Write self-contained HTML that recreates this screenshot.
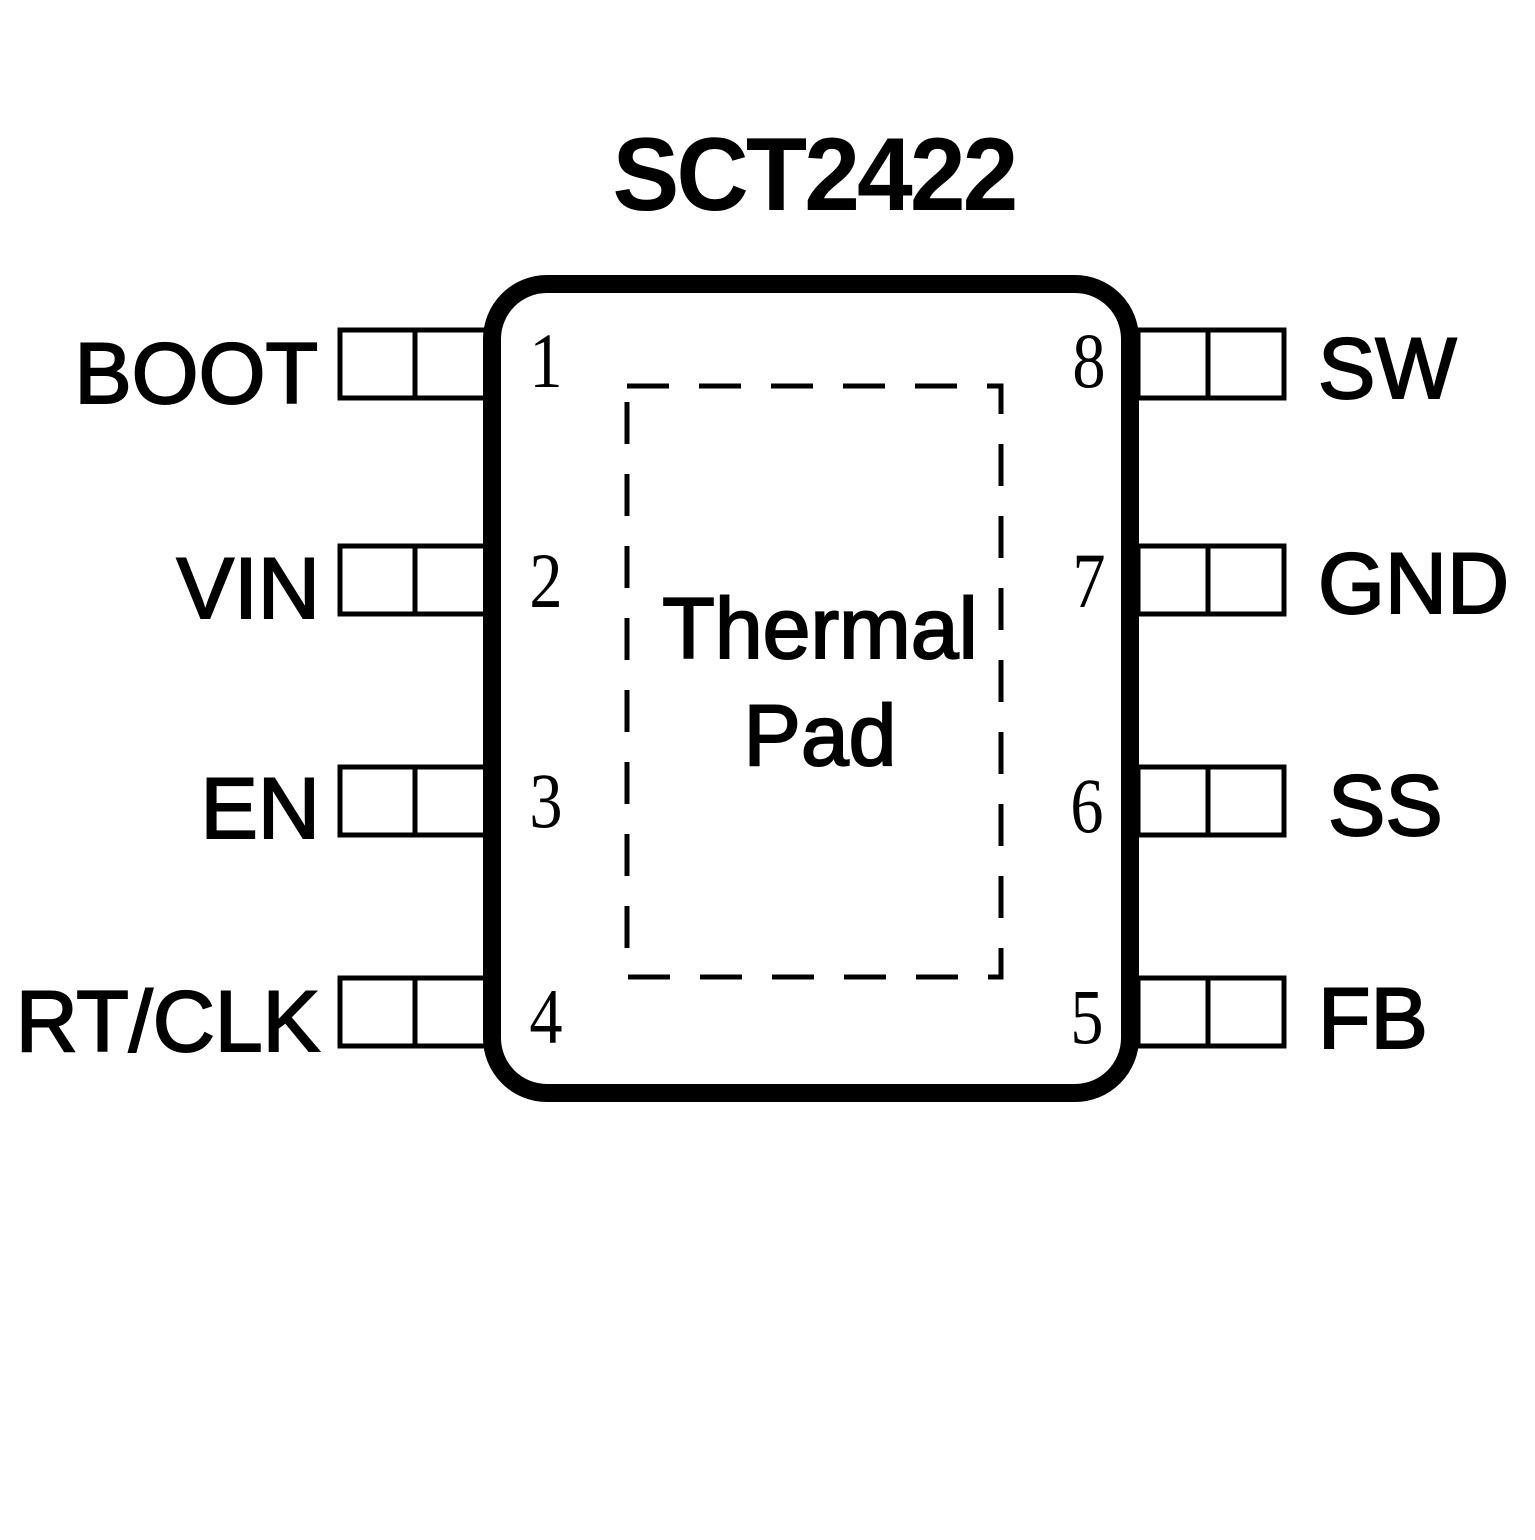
<!DOCTYPE html>
<html><head><style>html,body{margin:0;padding:0;background:#fff}</style></head>
<body>
<svg width="1535" height="1535" viewBox="0 0 1535 1535" xmlns="http://www.w3.org/2000/svg">
<rect width="1535" height="1535" fill="#fff"/>
<text x="814" y="210" text-anchor="middle" font-family="Liberation Sans, sans-serif" font-weight="bold" font-size="104" fill="#000" letter-spacing="-3" textLength="403" lengthAdjust="spacingAndGlyphs">SCT2422</text>
<g fill="none" stroke="#000" stroke-width="5">
<rect x="340" y="330" width="146" height="68"/><line x1="415" y1="330" x2="415" y2="398"/>
<rect x="340" y="546" width="146" height="68"/><line x1="415" y1="546" x2="415" y2="614"/>
<rect x="340" y="767" width="146" height="68"/><line x1="415" y1="767" x2="415" y2="835"/>
<rect x="340" y="978" width="146" height="68"/><line x1="415" y1="978" x2="415" y2="1046"/>
<rect x="1138" y="330" width="146" height="68"/><line x1="1208" y1="330" x2="1208" y2="398"/>
<rect x="1138" y="546" width="146" height="68"/><line x1="1208" y1="546" x2="1208" y2="614"/>
<rect x="1138" y="767" width="146" height="68"/><line x1="1208" y1="767" x2="1208" y2="835"/>
<rect x="1138" y="978" width="146" height="68"/><line x1="1208" y1="978" x2="1208" y2="1046"/>
</g>
<rect x="492" y="284" width="638" height="809" rx="55" fill="#fff" stroke="#000" stroke-width="18"/>
<rect x="627" y="386" width="374" height="591" fill="none" stroke="#000" stroke-width="5" stroke-dasharray="42 30"/>
<g font-family="Liberation Sans, sans-serif" font-size="86" fill="#000" stroke="#000" stroke-width="2" text-anchor="end">
<text x="318" y="403">BOOT</text>
<text x="320" y="618">VIN</text>
<text x="320" y="838">EN</text>
<text x="320" y="1051">RT/CLK</text>
</g>
<g font-family="Liberation Sans, sans-serif" font-size="86" fill="#000" stroke="#000" stroke-width="2">
<text x="1318" y="398">SW</text>
<text x="1318" y="613">GND</text>
<text x="1328" y="835">SS</text>
<text x="1318" y="1048">FB</text>
</g>
<g font-family="Liberation Serif, serif" font-size="78" fill="#000" text-anchor="middle">
<text transform="translate(546,387) scale(0.85,1)">1</text>
<text transform="translate(546,607) scale(0.85,1)">2</text>
<text transform="translate(546,827) scale(0.85,1)">3</text>
<text transform="translate(546,1043) scale(0.85,1)">4</text>
<text transform="translate(1089,387) scale(0.85,1)">8</text>
<text transform="translate(1089,607) scale(0.85,1)">7</text>
<text transform="translate(1087,832) scale(0.85,1)">6</text>
<text transform="translate(1087,1043) scale(0.85,1)">5</text>
</g>
<g font-family="Liberation Sans, sans-serif" font-size="86" fill="#000" stroke="#000" stroke-width="2" text-anchor="middle">
<text x="820" y="658">Thermal</text>
<text x="820" y="765">Pad</text>
</g>
</svg>
</body></html>
